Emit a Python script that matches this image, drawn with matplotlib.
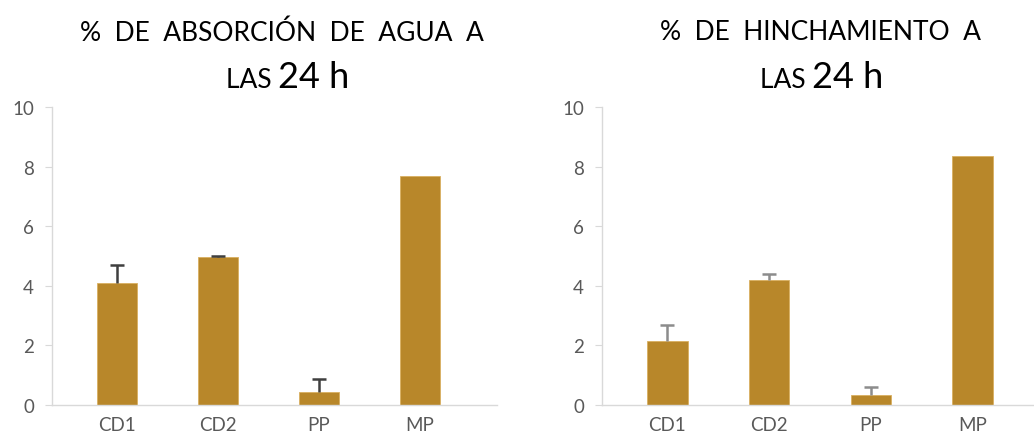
import numpy as np
import matplotlib.pyplot as plt

# datos
categorias = ['CD1', 'CD2', 'PP', 'MP']
absorcion = [4.08, 4.97, 0.45, 7.70]
absorcion_err = [0.62, 0.03, 0.42, 0.0]
hinchamiento = [2.15, 4.18, 0.33, 8.35]
hinchamiento_err = [0.55, 0.20, 0.28, 0.0]
yticks = [0, 2, 4, 6, 8, 10]

color_barra = '#B8872A'
fuente = 'Lato'

fig = plt.figure(figsize=(10.34, 4.35), dpi=100)

def panel(rect, valores, errores, color_err, xlim):
    ax = fig.add_axes(rect)
    x = np.arange(len(categorias))
    ax.bar(x, valores, width=0.4, color=color_barra, edgecolor='#D9B060', linewidth=0.6, zorder=2)
    # solo barra de error positiva (como Excel)
    for xi, v, e in zip(x, valores, errores):
        if e > 0:
            ax.vlines(xi, v, v + e, color=color_err, linewidth=1.8, zorder=3)
            ax.hlines(v + e, xi - 0.07, xi + 0.07, color=color_err, linewidth=1.8, zorder=3)
    ax.set_xlim(*xlim)
    ax.set_ylim(0, 10)
    ax.set_yticks(yticks)
    ax.set_xticks(x)
    ax.set_xticklabels(categorias)
    for s in ['top', 'right']:
        ax.spines[s].set_visible(False)
    for s in ['left', 'bottom']:
        ax.spines[s].set_color('#D9D9D9')
        ax.spines[s].set_linewidth(1)
    ax.tick_params(axis='y', length=5, color='#D9D9D9', labelsize=13.5,
                   labelcolor='#595959', pad=8)
    ax.tick_params(axis='x', length=0, labelsize=13.5, labelcolor='#595959', pad=8)
    for lab in ax.get_xticklabels() + ax.get_yticklabels():
        lab.set_family(fuente)
    return ax

ax1 = panel([52/1034, 29/435, 445/1034, 298/435], absorcion, absorcion_err,
            '#3F3F3F', (-0.64, 3.76))
ax2 = panel([602/1034, 29/435, 432/1034, 298/435], hinchamiento, hinchamiento_err,
            '#8C8C8C', (-0.64, 3.6))

def titulo(cx, linea1, split):
    fig.text(cx / 1034, 1 - 33/435, linea1, ha='center', va='center',
             fontsize=19, family=fuente, color='black')
    fig.text(split / 1034, 1 - 88/435, 'LAS ', ha='right', va='baseline',
             fontsize=19, family=fuente, color='black')
    fig.text(split / 1034, 1 - 88/435, '24 h', ha='left', va='baseline',
             fontsize=26, family=fuente, color='black')

titulo(282, '%  DE  ABSORCIÓN  DE  AGUA  A', 278)
titulo(820, '%  DE  HINCHAMIENTO  A', 812)

fig.savefig('out.png', dpi=100)
